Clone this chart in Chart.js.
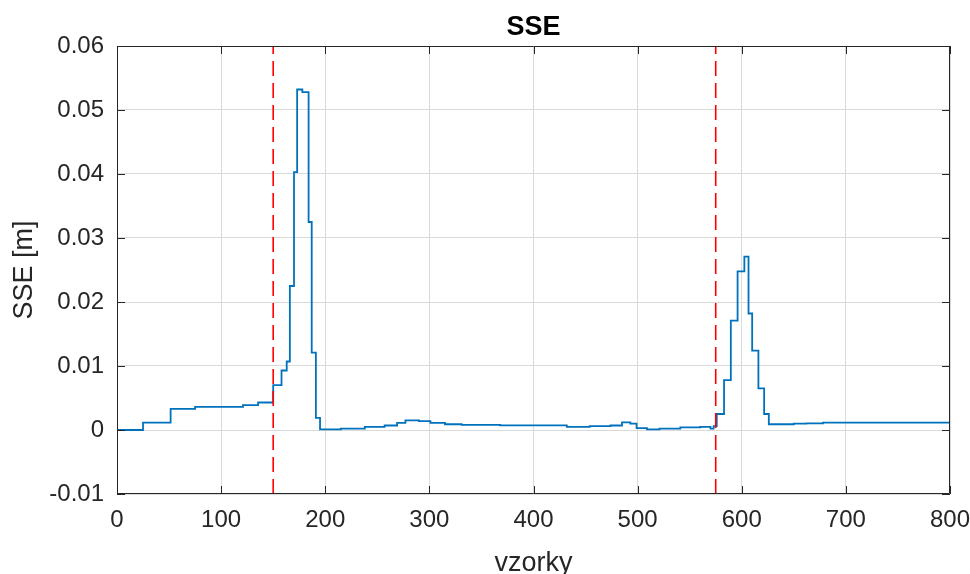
<!DOCTYPE html>
<html>
<head>
<meta charset="utf-8">
<script src="https://cdn.jsdelivr.net/npm/chart.js@4.4.0/dist/chart.umd.min.js"></script>
<style>
  html, body { margin: 0; padding: 0; background: #fff; }
  #wrap { width: 970px; height: 574px; }
</style>
</head>
<body>
<div id="wrap"><canvas id="sseChart"></canvas></div>
<script>
// step positions (sample index) and SSE level that starts there
const sampleX = [0, 25, 51.5, 75, 121, 135.5, 150, 158, 163, 166, 170, 173, 178, 184, 187, 191, 195,
  215, 238, 257, 269, 277, 290, 301, 315, 331, 368, 432, 454, 474, 485, 493, 499, 509, 521, 541,
  560, 570, 573, 576, 583, 589.5, 596, 602.5, 606.5, 610, 616, 621.5, 626, 650, 662, 678, 800];
const sseValues = [0, 0.00115, 0.0033, 0.0036, 0.0039, 0.0043, 0.007, 0.0093, 0.0107, 0.0225, 0.0403,
  0.0532, 0.0528, 0.0325, 0.0121, 0.0019, 0.0001,
  0.0002, 0.0005, 0.0007, 0.0011, 0.0015, 0.0014, 0.0011, 0.0009, 0.0008, 0.00073, 0.0005, 0.0006,
  0.0007, 0.0012, 0.001, 0.0003, 0.0001, 0.0002, 0.0004,
  0.0005, 0.0002, 0.0006, 0.0025, 0.0078, 0.0171, 0.0248, 0.0271, 0.0182, 0.0124, 0.0065, 0.0025,
  0.0009, 0.001, 0.00105, 0.00115, 0.00115];
const markerX = [150, 575];
const xTicks = [0, 100, 200, 300, 400, 500, 600, 700, 800];
const yTicks = [-0.01, 0, 0.01, 0.02, 0.03, 0.04, 0.05, 0.06];

const axisColor = '#262626';
const fontFamily = '"Liberation Sans", Arial, Helvetica, sans-serif';

const points = sampleX.map((x, i) => ({ x: x, y: sseValues[i] }));
const markerSets = markerX.map(x => ({
  data: [{ x: x, y: -0.01 }, { x: x, y: 0.06 }],
  borderColor: '#ff0000',
  borderWidth: 1.6,
  borderDash: [15, 7],
  pointRadius: 0,
  fill: false,
  order: 0
}));

// matlab-like box with inward ticks + title over the axes
const boxPlugin = {
  id: 'boxPlugin',
  afterDatasetsDraw(chart) {
    const ctx = chart.ctx;
    const a = chart.chartArea;
    const xs = chart.scales.x, ys = chart.scales.y;
    const tl = 8;
    ctx.save();
    ctx.strokeStyle = axisColor;
    ctx.lineWidth = 1;
    ctx.beginPath();
    ctx.rect(a.left + 0.5, a.top + 0.5, a.right - a.left - 1, a.bottom - a.top - 1);
    xTicks.forEach(t => {
      const px = Math.round(xs.getPixelForValue(t)) + 0.5;
      ctx.moveTo(px, a.bottom); ctx.lineTo(px, a.bottom - tl);
      ctx.moveTo(px, a.top); ctx.lineTo(px, a.top + tl);
    });
    yTicks.forEach(t => {
      const py = Math.round(ys.getPixelForValue(t)) + 0.5;
      ctx.moveTo(a.left, py); ctx.lineTo(a.left + tl, py);
      ctx.moveTo(a.right, py); ctx.lineTo(a.right - tl, py);
    });
    ctx.stroke();
    ctx.fillStyle = '#000';
    ctx.font = 'bold 27px ' + fontFamily;
    ctx.textAlign = 'center';
    ctx.textBaseline = 'middle';
    ctx.fillText('SSE', (a.left + a.right) / 2, 28);
    ctx.restore();
  }
};

new Chart(document.getElementById('sseChart'), {
  type: 'line',
  data: {
    datasets: [{
      data: points,
      borderColor: '#0072bd',
      borderWidth: 1.8,
      stepped: true,
      pointRadius: 0,
      fill: false,
      order: 1
    }, ...markerSets]
  },
  options: {
    responsive: true,
    maintainAspectRatio: false,
    animation: false,
    layout: { padding: { top: 46, right: 20, left: 0, bottom: 0 } },
    plugins: { legend: { display: false }, tooltip: { enabled: false } },
    scales: {
      x: {
        type: 'linear', min: 0, max: 800,
        afterFit: s => { s.height = 80; s.paddingRight = 0; },
        afterBuildTicks: s => { s.ticks = xTicks.map(v => ({ value: v })); },
        grid: { color: '#dadada', drawTicks: false },
        border: { display: false },
        ticks: { color: axisColor, padding: 12, font: { family: fontFamily, size: 24 }, maxRotation: 0 },
        title: {
          display: true, text: 'vzorky', color: axisColor,
          font: { family: fontFamily, size: 27, lineHeight: 0.8 }, padding: { top: 0, bottom: 0 }
        }
      },
      y: {
        type: 'linear', min: -0.01, max: 0.06,
        afterFit: s => { s.width = 117; },
        afterBuildTicks: s => { s.ticks = yTicks.map(v => ({ value: v })); },
        grid: { color: '#dadada', drawTicks: false },
        border: { display: false },
        ticks: {
          color: axisColor, padding: 13, font: { family: fontFamily, size: 24 },
          callback: v => Math.abs(v) < 1e-9 ? '0' : String(parseFloat(v.toFixed(2)))
        },
        title: {
          display: true, text: 'SSE [m]', color: axisColor,
          font: { family: fontFamily, size: 27, lineHeight: 1 }, padding: { top: 11, bottom: 0 }
        }
      }
    }
  },
  plugins: [boxPlugin]
});
</script>
</body>
</html>
